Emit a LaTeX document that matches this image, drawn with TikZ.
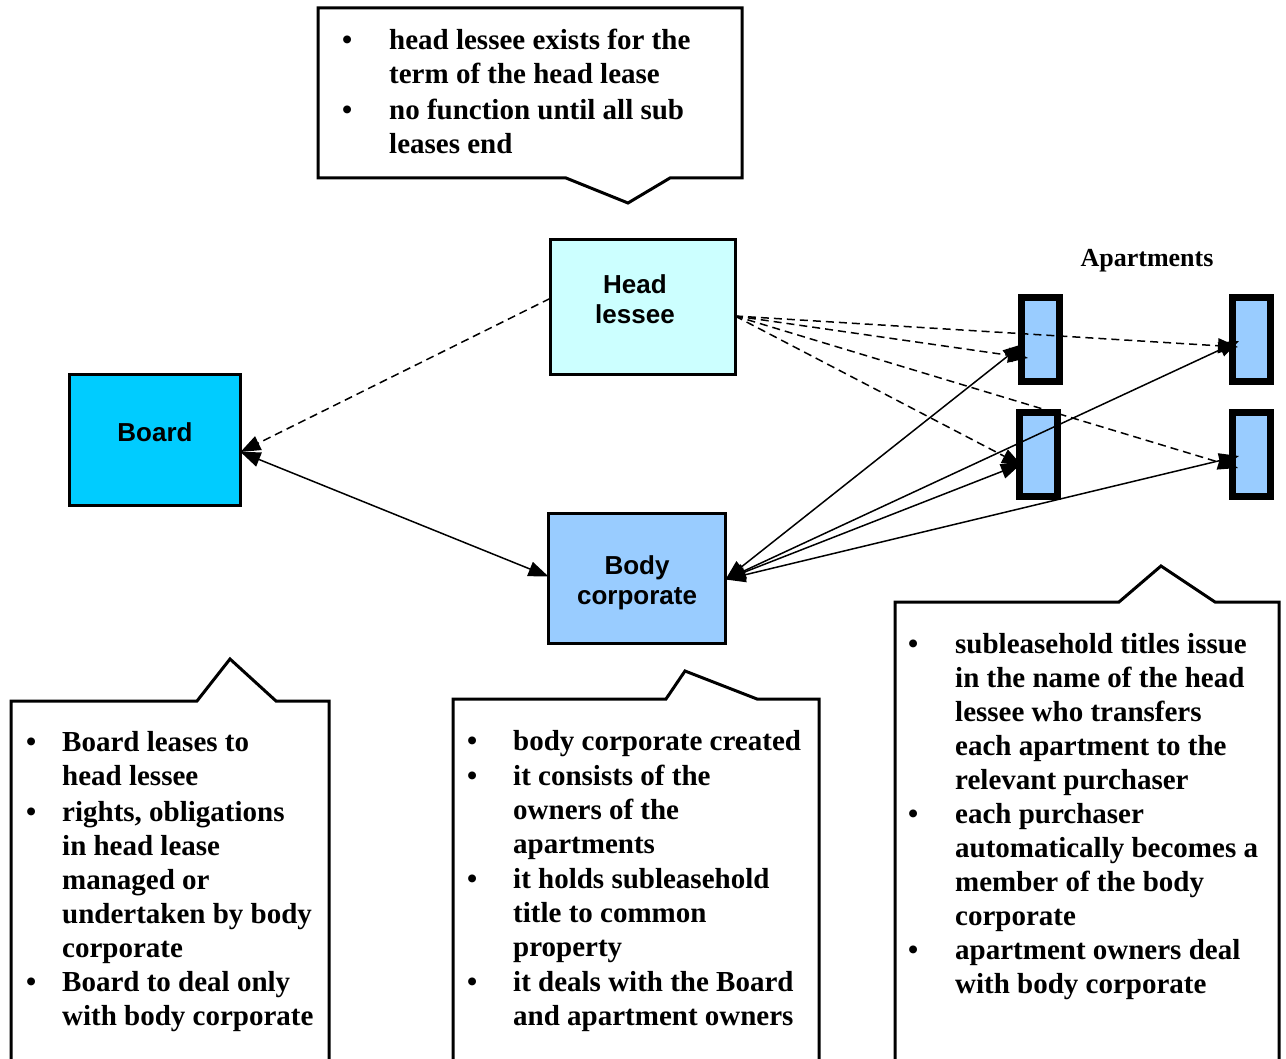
\documentclass[tikz,border=0pt]{standalone}
\usepackage{fontspec}
\setmainfont{Liberation Serif}
\newfontfamily\arialf{Liberation Sans}
\usetikzlibrary{arrows.meta}
\definecolor{hlfill}{HTML}{CCFFFF}
\definecolor{bdfill}{HTML}{00CCFF}
\definecolor{bcfill}{HTML}{99CCFF}
\begin{document}
\begin{tikzpicture}[x=1pt,y=-1pt,
  box/.style={draw, line width=3pt, inner sep=0pt, outer sep=0pt},
  aptbox/.style={draw, line width=7pt, fill=bcfill, minimum width=38pt, minimum height=84pt, inner sep=0pt, outer sep=0pt},
  lbl/.style={font=\arialf\bfseries\fontsize{26}{30}\selectfont, align=center, inner sep=0pt},
  bultext/.style={font=\bfseries\fontsize{29}{34}\selectfont, anchor=north west, inner sep=0pt},
  callout/.style={draw, line width=3pt, line join=miter},
  dsh/.style={line width=1.5pt, dash pattern=on 8pt off 5pt, -{Triangle[length=20pt,width=15pt]}},
  sld/.style={line width=1.5pt, {Triangle[length=20pt,width=15pt]}-{Triangle[length=20pt,width=15pt]}}
]
\clip (0,0) rectangle (1286,1059);
\fill[white] (0,0) rectangle (1286,1059);

% callouts
\draw[callout, fill=white] (318,8) -- (742,8) -- (742,178) -- (670,178) -- (628,203) -- (566,178) -- (318,178) -- cycle;
\draw[callout] (11,1070) -- (11,701) -- (197,701) -- (230,659) -- (276,701) -- (329,701) -- (329,1070);
\draw[callout] (453,1070) -- (453,699) -- (666,699) -- (685,671) -- (757,699) -- (819,699) -- (819,1070);
\draw[callout] (895,1070) -- (895,602) -- (1119,602) -- (1161,566) -- (1215,602) -- (1279,602) -- (1279,1070);

% callout texts
\node[bultext] (ttop) at (342,26) {\begin{tabular}{@{}p{47pt}@{}l@{}}
\textbullet & head lessee exists for the\\
 & term of the head lease\\[2pt]
\textbullet & no function until all sub\\
 & leases end
\end{tabular}};
\node[bultext] (tleft) at (26,727) {\begin{tabular}{@{}p{36pt}@{}l@{}}
\textbullet & Board leases to\\
 & head lessee\\[2pt]
\textbullet & rights, obligations\\
 & in head lease\\
 & managed or\\
 & undertaken by body\\
 & corporate\\
\textbullet & Board to deal only\\
 & with body corporate
\end{tabular}};
\node[bultext] (tmid) at (467,726) {\begin{tabular}{@{}p{46pt}@{}l@{}}
\textbullet & body corporate created\\[1pt]
\textbullet & it consists of the\\
 & owners of the\\
 & apartments\\[1pt]
\textbullet & it holds subleasehold\\
 & title to common\\
 & property\\[1pt]
\textbullet & it deals with the Board\\
 & and apartment owners
\end{tabular}};
\node[bultext] (tright) at (908,629) {\begin{tabular}{@{}p{47pt}@{}l@{}}
\textbullet & subleasehold titles issue\\
 & in the name of the head\\
 & lessee who transfers\\
 & each apartment to the\\
 & relevant purchaser\\
\textbullet & each purchaser\\
 & automatically becomes a\\
 & member of the body\\
 & corporate\\
\textbullet & apartment owners deal\\
 & with body corporate
\end{tabular}};

% main boxes
\node[box, fill=hlfill, minimum width=185pt, minimum height=135pt] (hl) at (642.5,307.5) {};
\node[lbl] (hltxt) at (635,299) {Head\\lessee};
\node[box, fill=bdfill, minimum width=171pt, minimum height=131pt] (bd) at (155,440) {};
\node[lbl] (bdtxt) at (155,432) {Board};
\node[box, fill=bcfill, minimum width=177pt, minimum height=130pt] (bc) at (637,578.5) {};
\node[lbl] (bctxt) at (637,582.5) {Body\\corporate};

% apartments
\node[font=\bfseries\fontsize{26}{30}\selectfont, inner sep=0pt] (aptl) at (1147,261) {Apartments};
\node[aptbox] (a1) at (1040.5,339.5) {};
\node[aptbox] (a2) at (1251,339.5) {};
\node[aptbox] (a3) at (1038.5,454.5) {};
\node[aptbox] (a4) at (1251,454.5) {};

% connection points
\coordinate (hlw) at ([yshift=9pt]hl.west);
\coordinate (hle) at ([yshift=-8.5pt]hl.east);
\coordinate (bde) at ([yshift=-12pt]bd.east);
\coordinate (bcw) at ([yshift=2pt]bc.west);
\coordinate (bce) at ([yshift=-1pt]bc.east);
\coordinate (s1) at ([shift={(-17.5,4.5)}]a1.center);
\coordinate (d1) at ([shift={(-12.5,18.5)}]a1.center);
\coordinate (s2) at ([shift={(-12,1.5)}]a2.center);
\coordinate (d2) at ([shift={(-13,7.5)}]a2.center);
\coordinate (s3) at ([shift={(-17.5,9.5)}]a3.center);
\coordinate (d3) at ([shift={(-16.5,11)}]a3.center);
\coordinate (s4) at ([shift={(-12,1.5)}]a4.center);
\coordinate (d4) at ([shift={(-13,13.5)}]a4.center);

% connectors
\draw[dsh] (hlw) -- (bde);
\draw[sld] (bde) -- (bcw);
\draw[dsh] (hle) -- (d1);
\draw[dsh] (hle) -- (d2);
\draw[dsh] (hle) -- (d3);
\draw[dsh] (hle) -- (d4);
\draw[sld] (bce) -- (s1);
\draw[sld] (bce) -- (s2);
\draw[sld] (bce) -- (s3);
\draw[sld] (bce) -- (s4);
\end{tikzpicture}
\end{document}
